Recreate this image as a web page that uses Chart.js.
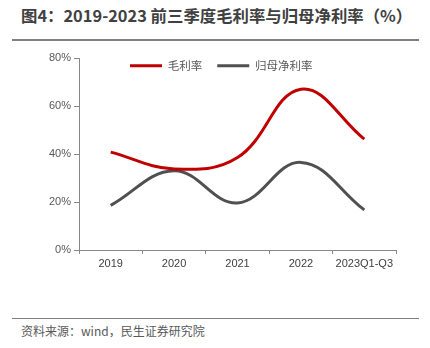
<!DOCTYPE html>
<html>
<head>
<meta charset="utf-8">
<script src="https://cdn.jsdelivr.net/npm/chart.js@4/dist/chart.umd.min.js"></script>
<style>
  html,body{margin:0;padding:0;background:#fff;}
  #wrap{position:relative;width:430px;height:348px;overflow:hidden;}
  #title{position:absolute;left:21px;top:3px;font:bold 16.4px "Noto Sans CJK SC",sans-serif;color:#404040;white-space:nowrap;}
  #line1{position:absolute;left:12px;top:39px;width:407px;height:2px;background:#7f7f7f;}
  #line2{position:absolute;left:12px;top:318px;width:407px;height:1px;background:#7f7f7f;}
  #src{position:absolute;left:21px;top:322px;font:12px "Noto Sans CJK SC",sans-serif;color:#595959;white-space:nowrap;}
  #cv{position:absolute;left:0;top:45px;}
</style>
</head>
<body>
<div id="wrap">
  <div id="title">图4：2019-2023 前三季度毛利率与归母净利率（%）</div>
  <div id="line1"></div>
  <canvas id="cv" width="430" height="255"></canvas>
  <div id="line2"></div>
  <div id="src">资料来源：wind，民生证券研究院</div>
</div>
<script>
const categories = ['2019','2020','2021','2022','2023Q1-Q3'];
const grossMargin = [40.8, 33.8, 38.5, 67.0, 46.2];
const netMargin = [18.6, 33.0, 19.6, 36.5, 16.7];
const yTicks = [0, 20, 40, 60, 80];

const legendOverlay = {
  id:'legendOverlay',
  beforeLayout(chart){
    const lg = chart.legend;
    if (lg && !lg._patched){
      const orig = lg.fit.bind(lg);
      lg.fit = function(){ orig(); this._realH = this.height; this.height = 0; };
      lg._patched = true;
    }
  },
  afterLayout(chart){
    const lg = chart.legend;
    if (!lg) return;
    const pad = lg.options.labels.padding;
    lg.left = 130 - pad;
    lg.right = 420;
    lg.top = 0;
    lg.bottom = lg._realH || 30;
    lg.height = lg.bottom - lg.top;
  }
};

new Chart(document.getElementById('cv'), {
  type: 'line',
  data: {
    labels: categories,
    datasets: [
      {label:'毛利率', data: grossMargin, borderColor:'#c00000', backgroundColor:'#c00000', borderWidth:3, pointRadius:0, tension:0.4, fill:false},
      {label:'归母净利率', data: netMargin, borderColor:'#505050', backgroundColor:'#505050', borderWidth:3, pointRadius:0, tension:0.4, fill:false}
    ]
  },
  plugins:[legendOverlay],
  options: {
    responsive:false,
    animation:false,
    layout:{padding:{top:13,right:34,left:0,bottom:0}},
    plugins:{
      tooltip:{enabled:false},
      legend:{
        position:'top',
        align:'start',
        labels:{
          boxWidth:32, boxHeight:3, color:'#595959', padding:15,
          font:{family:'"Noto Sans CJK SC", sans-serif', size:11.5},
          generateLabels:(chart)=>{
            const items = Chart.defaults.plugins.legend.labels.generateLabels(chart);
            items.forEach(it=>{ it.lineWidth = 0; it.fillStyle = it.strokeStyle; });
            return items;
          }
        }
      }
    },
    scales:{
      x:{
        offset:true,
        grid:{drawOnChartArea:false, drawTicks:true, tickLength:4, color:'#888', offset:true},
        border:{display:true, color:'#888', width:1},
        ticks:{color:'#404040', font:{family:'"Liberation Sans", Arial, sans-serif', size:11}, padding:3, maxRotation:0, autoSkip:false},
        afterFit:(s)=>{s.height = 50;}
      },
      y:{
        min:0, max:80,
        afterBuildTicks:(s)=>{s.ticks = yTicks.map(v=>({value:v}));},
        grid:{drawOnChartArea:false, drawTicks:true, tickLength:5, color:'#888'},
        border:{display:true, color:'#888', width:1},
        ticks:{color:'#595959', font:{family:'"Liberation Sans", Arial, sans-serif', size:11}, padding:3, callback:(v)=>v+'%'},
        afterFit:(s)=>{s.width = 79;}
      }
    }
  }
});
</script>
</body>
</html>
